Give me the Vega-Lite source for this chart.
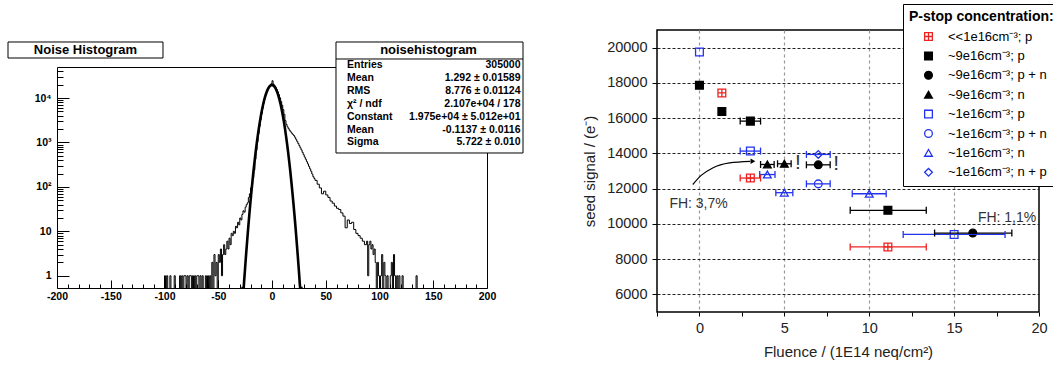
{
  "$schema": "https://vega.github.io/schema/vega-lite/v6.json",
  "padding": {"left": 7, "top": 2, "right": 0, "bottom": 0},
  "spacing": 56,
  "config": {
    "font": "Liberation Sans",
    "text": {"font": "Liberation Sans"},
    "axis": {"labelFont": "Liberation Sans", "titleFont": "Liberation Sans"}
  },
  "resolve": {
    "scale": {"shape": "independent", "fill": "independent", "stroke": "independent"},
    "legend": {"shape": "independent", "fill": "independent", "stroke": "independent"}
  },
  "hconcat": [
    {
      "spacing": 9,
      "vconcat": [
        {
          "width": 430,
          "height": 1,
          "view": {"stroke": null},
          "data": {"values": [{}]},
          "mark": {"type": "rect", "fill": "white"}
        },
        {
          "width": 430,
          "height": 221,
          "view": {"stroke": "black", "strokeWidth": 1},
          "resolve": {"axis": {"x": "independent"}},
          "layer": [
            {
              "data": {"values": [
                {"x":-200,"n":0.1},{"x":-100,"n":1},{"x":-99,"n":0.1},{"x":-98,"n":1},{"x":-97,"n":0.1},{"x":-95,"n":1},{"x":-94,"n":0.1},{"x":-91,"n":1},{"x":-90,"n":0.1},
                {"x":-86,"n":1},{"x":-85,"n":0.1},{"x":-84,"n":1},{"x":-83,"n":0.1},{"x":-82,"n":1},{"x":-80,"n":0.1},{"x":-79,"n":1},{"x":-78,"n":0.1},{"x":-77,"n":1},{"x":-75,"n":0.1},{"x":-74,"n":1},{"x":-73,"n":0.1},{"x":-72,"n":1},{"x":-71,"n":0.1},{"x":-70,"n":1},{"x":-68,"n":0.1},{"x":-67,"n":1},{"x":-66,"n":0.1},{"x":-65,"n":1},{"x":-64,"n":0.1},{"x":-62,"n":1},{"x":-61,"n":0.1},{"x":-60,"n":1},{"x":-59,"n":0.1},{"x":-58,"n":1},{"x":-57,"n":0.1},
                {"x":-56,"n":2},{"x":-55,"n":0.1},{"x":-54,"n":3},{"x":-53,"n":1},{"x":-52,"n":2},{"x":-51,"n":0.1},{"x":-50,"n":3},{"x":-49,"n":2},{"x":-48,"n":4},{"x":-47,"n":1},{"x":-46,"n":3},{"x":-45,"n":5},{"x":-44,"n":3},{"x":-43,"n":4},{"x":-42,"n":6},{"x":-41,"n":4},{"x":-40,"n":7},{"x":-39,"n":5},{"x":-38,"n":9},{"x":-37,"n":8},{"x":-36,"n":10},{"x":-35,"n":9},{"x":-34,"n":13},{"x":-33,"n":12},{"x":-32,"n":16},{"x":-31,"n":14},{"x":-30,"n":20},{"x":-29,"n":18},{"x":-28,"n":24},{"x":-27,"n":29},{"x":-26,"n":27},{"x":-25,"n":35},{"x":-24,"n":40},{"x":-23,"n":44},{"x":-22,"n":58},{"x":-21,"n":70},{"x":-20,"n":95},{"x":-19,"n":115},{"x":-18,"n":160},{"x":-17,"n":240},{"x":-16,"n":420},{"x":-15,"n":680},{"x":-14,"n":1050},{"x":-13,"n":1580},{"x":-12,"n":2300},{"x":-11,"n":3250},{"x":-10,"n":4450},{"x":-9,"n":5950},{"x":-8,"n":7700},{"x":-7,"n":9650},{"x":-6,"n":11700},{"x":-5,"n":13800},{"x":-4,"n":15800},{"x":-3,"n":17500},{"x":-2,"n":18900},{"x":-1,"n":21000},{"x":0,"n":24500},{"x":1,"n":20500},{"x":2,"n":18800},{"x":3,"n":17300},{"x":4,"n":15600},{"x":5,"n":13800},{"x":6,"n":11900},{"x":7,"n":10100},{"x":8,"n":8400},{"x":9,"n":6900},{"x":10,"n":5500},{"x":11,"n":4300},{"x":12,"n":3100},{"x":13,"n":2550},{"x":14,"n":2250},{"x":15,"n":2050},{"x":16,"n":1880},{"x":17,"n":1740},{"x":18,"n":1620},{"x":19,"n":1520},{"x":20,"n":1430},{"x":21,"n":1310},{"x":22,"n":1180},{"x":23,"n":1060},{"x":24,"n":950},{"x":25,"n":850},{"x":26,"n":760},{"x":27,"n":680},{"x":28,"n":600},{"x":29,"n":530},{"x":30,"n":470},{"x":31,"n":420},{"x":32,"n":370},{"x":33,"n":330},{"x":34,"n":290},{"x":35,"n":255},{"x":36,"n":225},{"x":37,"n":195},{"x":38,"n":170},{"x":39,"n":155},{"x":40,"n":140},{"x":42,"n":115},{"x":44,"n":95},{"x":46,"n":70},{"x":48,"n":80},{"x":50,"n":66},{"x":52,"n":58},{"x":54,"n":48},{"x":56,"n":43},{"x":58,"n":37},{"x":60,"n":33},{"x":62,"n":31},{"x":64,"n":26},{"x":66,"n":22},{"x":68,"n":12},{"x":70,"n":18},{"x":72,"n":15},{"x":74,"n":16},{"x":76,"n":11},{"x":78,"n":9},{"x":80,"n":8},{"x":82,"n":7},{"x":84,"n":6},{"x":86,"n":5},{"x":88,"n":6},{"x":89,"n":1},{"x":90,"n":5},{"x":91,"n":6},{"x":92,"n":4},{"x":93,"n":5},{"x":94,"n":3},{"x":95,"n":4},{"x":96,"n":2},{"x":97,"n":0.1},{"x":98,"n":2},{"x":99,"n":1},{"x":100,"n":0.1},{"x":101,"n":1},{"x":102,"n":3},{"x":103,"n":0.1},{"x":104,"n":2},{"x":105,"n":1},{"x":106,"n":0.1},{"x":107,"n":1},{"x":108,"n":0.1},{"x":110,"n":1},{"x":111,"n":2},{"x":112,"n":0.1},{"x":113,"n":3},{"x":114,"n":1},{"x":115,"n":0.1},{"x":116,"n":1},{"x":117,"n":0.1},{"x":118,"n":1},{"x":119,"n":0.1},{"x":121,"n":1},{"x":122,"n":0.1},{"x":134,"n":1},{"x":135,"n":0.1},{"x":200,"n":0.1}
              ]},
              "mark": {"type": "line", "interpolate": "step-after", "clip": true, "color": "black", "strokeWidth": 1},
              "encoding": {
                "x": {
                  "field": "x", "type": "quantitative",
                  "scale": {"domain": [-200, 200], "nice": false, "zero": false},
                  "axis": {
                    "title": null, "domain": false, "grid": false, "orient": "bottom",
                    "values": [-200, -150, -100, -50, 0, 50, 100, 150, 200],
                    "labelExpr": "'' + datum.value",
                    "tickSize": -8, "tickColor": "black", "tickWidth": 1,
                    "labelPadding": 11, "labelFlush": false, "labelOverlap": false, "labelBound": false,
                    "labelFontWeight": "bold", "labelFontSize": 10.5, "labelColor": "black"
                  }
                },
                "y": {
                  "field": "n", "type": "quantitative",
                  "scale": {"type": "log", "domain": [0.53, 50000], "nice": false},
                  "axis": {
                    "title": null, "domain": false, "grid": false,
                    "values": [1,2,3,4,5,6,7,8,9,10,20,30,40,50,60,70,80,90,100,200,300,400,500,600,700,800,900,1000,2000,3000,4000,5000,6000,7000,8000,9000,10000,20000,30000,40000],
                    "labelExpr": "datum.value === 1 ? '1' : datum.value === 10 ? '10' : datum.value === 100 ? '10²' : datum.value === 1000 ? '10³' : datum.value === 10000 ? '10⁴' : ''",
                    "tickSize": {"condition": {"test": "indexof([1,10,100,1000,10000], datum.value) >= 0", "value": -12}, "value": -6},
                    "tickColor": "black", "tickWidth": 1,
                    "labelPadding": 18, "labelOverlap": false, "labelBound": false, "labelFlush": false,
                    "labelFontWeight": "bold", "labelFontSize": 10.5, "labelColor": "black"
                  }
                }
              }
            },
            {
              "data": {"values": [
                {"x":-28.5,"f":0.53},{"x":-26.3,"f":0.53},{"x":-26,"f":0.71},{"x":-25,"f":1.53},{"x":-24,"f":3.23},{"x":-23,"f":6.61},{"x":-22,"f":13.1},{"x":-21,"f":25.2},{"x":-20,"f":47},{"x":-19,"f":85},{"x":-18,"f":149},{"x":-17,"f":253},{"x":-16,"f":418},{"x":-15,"f":668},{"x":-14,"f":1039},{"x":-13,"f":1561},{"x":-12,"f":2279},{"x":-11,"f":3229},{"x":-10,"f":4434},{"x":-9,"f":5906},{"x":-8,"f":7628},{"x":-7,"f":9562},{"x":-6,"f":11625},{"x":-5,"f":13710},{"x":-4,"f":15675},{"x":-3,"f":17385},{"x":-2,"f":18700},{"x":-1,"f":19510},{"x":0,"f":19746},{"x":1,"f":19380},{"x":2,"f":18450},{"x":3,"f":17030},{"x":4,"f":15250},{"x":5,"f":13240},{"x":6,"f":11170},{"x":7,"f":9122},{"x":8,"f":7232},{"x":9,"f":5560},{"x":10,"f":4146},{"x":11,"f":2998},{"x":12,"f":2103},{"x":13,"f":1430},{"x":14,"f":944},{"x":15,"f":604},{"x":16,"f":375},{"x":17,"f":226},{"x":18,"f":132},{"x":19,"f":74.7},{"x":20,"f":41.1},{"x":21,"f":21.9},{"x":22,"f":11.3},{"x":23,"f":5.67},{"x":24,"f":2.76},{"x":25,"f":1.3},{"x":26,"f":0.594},{"x":26.2,"f":0.53},{"x":28.5,"f":0.53}
              ]},
              "mark": {"type": "line", "clip": true, "color": "black", "strokeWidth": 2.6},
              "encoding": {
                "x": {
                  "field": "x", "type": "quantitative",
                  "axis": {
                    "title": null, "domain": false, "grid": false, "orient": "bottom", "labels": false,
                    "values": [-190,-180,-170,-160,-140,-130,-120,-110,-90,-80,-70,-60,-40,-30,-20,-10,10,20,30,40,60,70,80,90,110,120,130,140,160,170,180,190],
                    "tickSize": -4, "tickColor": "black", "tickWidth": 1
                  }
                },
                "y": {"field": "f", "type": "quantitative"}
              }
            },
            {
              "data": {"values": [{}]},
              "mark": {"type": "rect", "fill": "white", "stroke": "black", "strokeWidth": 1},
              "encoding": {
                "x": {"datum": -245.58, "type": "quantitative", "axis": null},
                "x2": {"datum": -101.4},
                "y": {"datum": 182700, "type": "quantitative"},
                "y2": {"datum": 79700}
              }
            },
            {
              "data": {"values": [{}]},
              "mark": {"type": "text", "text": "Noise Histogram", "font": "Liberation Sans", "fontWeight": "bold", "fontSize": 13, "align": "center", "baseline": "middle", "color": "black"},
              "encoding": {
                "x": {"datum": -173.5, "type": "quantitative", "axis": null},
                "y": {"datum": 120700, "type": "quantitative"}
              }
            },
            {
              "data": {"values": [{}]},
              "mark": {"type": "rect", "fill": "white", "stroke": "black", "strokeWidth": 1},
              "encoding": {
                "x": {"datum": 59.53, "type": "quantitative", "axis": null},
                "x2": {"datum": 233.49},
                "y": {"datum": 182700, "type": "quantitative"},
                "y2": {"datum": 580}
              }
            },
            {
              "data": {"values": [{}]},
              "mark": {"type": "rule", "color": "black", "strokeWidth": 1},
              "encoding": {
                "x": {"datum": 59.53, "type": "quantitative", "axis": null},
                "x2": {"datum": 233.49},
                "y": {"datum": 75700, "type": "quantitative"}
              }
            },
            {
              "data": {"values": [{}]},
              "mark": {"type": "text", "text": "noisehistogram", "font": "Liberation Sans", "fontWeight": "bold", "fontSize": 13, "align": "center", "baseline": "middle", "color": "black"},
              "encoding": {
                "x": {"datum": 145.6, "type": "quantitative", "axis": null},
                "y": {"datum": 120700, "type": "quantitative"}
              }
            },
            {
              "data": {"values": [{}]},
              "mark": {"type": "text", "text": ["Entries", "Mean", "RMS", "χ² / ndf", "Constant", "Mean", "Sigma"], "font": "Liberation Sans", "fontWeight": "bold", "fontSize": 10.5, "lineHeight": 12.9, "align": "left", "baseline": "middle", "color": "black"},
              "encoding": {
                "x": {"datum": 69.8, "type": "quantitative", "axis": null},
                "y": {"datum": 55460, "type": "quantitative"}
              }
            },
            {
              "data": {"values": [{}]},
              "mark": {"type": "text", "text": ["305000", "1.292 ± 0.01589", "8.776 ± 0.01124", "2.107e+04 / 178", "1.975e+04 ± 5.012e+01", "-0.1137 ± 0.0116", "5.722 ± 0.010"], "font": "Liberation Sans", "fontWeight": "bold", "fontSize": 10.5, "lineHeight": 12.9, "align": "right", "baseline": "middle", "color": "black"},
              "encoding": {
                "x": {"datum": 231.2, "type": "quantitative", "axis": null},
                "y": {"datum": 55460, "type": "quantitative"}
              }
            }
          ]
        }
      ]
    },
    {
      "width": 382,
      "height": 282,
      "view": {"stroke": "black", "strokeWidth": 1.5},
      "layer": [
        {
          "data": {"name": "pts"},
          "mark": {"type": "point", "opacity": 1, "size": 60, "strokeWidth": 1.3},
          "encoding": {
            "x": {
              "field": "x", "type": "quantitative",
              "scale": {"domain": [-2.5, 20], "nice": false, "zero": false},
              "axis": {
                "title": "Fluence / (1E14 neq/cm²)", "titleFontSize": 15, "titleFontWeight": "normal", "titleColor": "#222", "titlePadding": 10,
                "domain": false,
                "values": [-2.5, 0, 2.5, 5, 7.5, 10, 12.5, 15, 17.5, 20],
                "labelExpr": "datum.value % 5 === 0 ? '' + datum.value : ''",
                "grid": true, "gridColor": "#999", "gridDash": [3, 3], "gridWidth": 1.2,
                "gridOpacity": {"condition": {"test": "datum.value % 5 === 0 && datum.value > -1 && datum.value < 19", "value": 1}, "value": 0},
                "tickSize": 4, "tickColor": "black", "labelPadding": 5,
                "labelFontSize": 14.5, "labelColor": "#222", "labelFlush": false, "labelOverlap": false, "labelBound": false
              }
            },
            "y": {
              "field": "y", "type": "quantitative",
              "scale": {"domain": [5000, 21000], "nice": false, "zero": false},
              "axis": {
                "title": "seed signal / (e⁻)", "titleFontSize": 15, "titleFontWeight": "normal", "titleColor": "#222", "titlePadding": 9,
                "domain": false,
                "values": [6000, 7000, 8000, 9000, 10000, 11000, 12000, 13000, 14000, 15000, 16000, 17000, 18000, 19000, 20000],
                "labelExpr": "datum.value % 2000 === 0 ? '' + datum.value : ''",
                "grid": true, "gridWidth": 1,
                "gridColor": {"condition": {"test": "datum.value % 2000 === 0", "value": "#222"}, "value": "#777"},
                "gridDash": {"condition": {"test": "datum.value % 2000 === 0", "value": [3, 2]}, "value": [1, 2]},
                "tickSize": 5, "tickColor": "black", "labelPadding": 5,
                "labelFontSize": 14.5, "labelColor": "#222", "labelOverlap": false, "labelBound": false, "labelFlush": false
              }
            },
            "shape": {
              "field": "s", "type": "nominal",
              "scale": {
                "domain": ["<<1e16cm⁻³; p", "~9e16cm⁻³; p", "~9e16cm⁻³; p + n", "~9e16cm⁻³; n", "~1e16cm⁻³; p", "~1e16cm⁻³; p + n", "~1e16cm⁻³; n", "~1e16cm⁻³; n + p"],
                "range": ["M-1,-1L1,-1L1,1L-1,1Z M0,-1L0,1 M-1,0L1,0", "square", "circle", "triangle-up", "square", "circle", "triangle-up", "diamond"]
              },
              "legend": {
                "title": "P-stop concentration:", "orient": "none", "legendX": 246, "legendY": -26,
                "fillColor": "white", "strokeColor": "black", "padding": 6,
                "titleFont": "Liberation Sans", "titleFontWeight": "bold", "titleFontSize": 14, "titleColor": "black", "titlePadding": 6,
                "labelFont": "Liberation Sans", "labelFontSize": 13, "labelColor": "black", "labelLimit": 400, "labelOffset": 13,
                "symbolSize": 60, "symbolStrokeWidth": 1.3, "symbolOffset": 13, "rowPadding": 5.4
              }
            },
            "fill": {
              "field": "s", "type": "nominal",
              "scale": {
                "domain": ["<<1e16cm⁻³; p", "~9e16cm⁻³; p", "~9e16cm⁻³; p + n", "~9e16cm⁻³; n", "~1e16cm⁻³; p", "~1e16cm⁻³; p + n", "~1e16cm⁻³; n", "~1e16cm⁻³; n + p"],
                "range": ["transparent", "black", "black", "black", "transparent", "transparent", "transparent", "transparent"]
              },
              "legend": {"title": "P-stop concentration:", "orient": "none", "legendX": 246, "legendY": -26}
            },
            "stroke": {
              "field": "s", "type": "nominal",
              "scale": {
                "domain": ["<<1e16cm⁻³; p", "~9e16cm⁻³; p", "~9e16cm⁻³; p + n", "~9e16cm⁻³; n", "~1e16cm⁻³; p", "~1e16cm⁻³; p + n", "~1e16cm⁻³; n", "~1e16cm⁻³; n + p"],
                "range": ["#ee2222", "black", "black", "black", "#2233ee", "#2233ee", "#2233ee", "#2233ee"]
              },
              "legend": {"title": "P-stop concentration:", "orient": "none", "legendX": 246, "legendY": -26}
            }
          }
        },
        {
          "data": {"name": "pts"},
          "mark": {"type": "rule", "strokeWidth": 1.3},
          "encoding": {
            "x": {"field": "lo", "type": "quantitative"},
            "x2": {"field": "hi"},
            "y": {"field": "y", "type": "quantitative"},
            "stroke": {"field": "s", "type": "nominal"}
          }
        },
        {
          "data": {"name": "pts"},
          "mark": {"type": "rule", "strokeWidth": 1.3, "yOffset": -3.5, "y2Offset": 3.5},
          "encoding": {
            "x": {"field": "lo", "type": "quantitative"},
            "y": {"field": "y", "type": "quantitative"},
            "y2": {"field": "y"},
            "stroke": {"field": "s", "type": "nominal"}
          }
        },
        {
          "data": {"name": "pts"},
          "mark": {"type": "rule", "strokeWidth": 1.3, "yOffset": -3.5, "y2Offset": 3.5},
          "encoding": {
            "x": {"field": "hi", "type": "quantitative"},
            "y": {"field": "y", "type": "quantitative"},
            "y2": {"field": "y"},
            "stroke": {"field": "s", "type": "nominal"}
          }
        },
        {
          "data": {"values": [
            {"x": -0.39, "y": 12234}, {"x": 0.1, "y": 12750}, {"x": 0.78, "y": 13175}, {"x": 1.77, "y": 13460}, {"x": 3.0, "y": 13550}
          ]},
          "mark": {"type": "line", "interpolate": "monotone", "color": "black", "strokeWidth": 1.2},
          "encoding": {
            "x": {"field": "x", "type": "quantitative"},
            "y": {"field": "y", "type": "quantitative"}
          }
        },
        {
          "data": {"values": [{"x": 3.15, "y": 13550}]},
          "mark": {"type": "point", "shape": "triangle-right", "filled": true, "color": "black", "opacity": 1, "size": 30},
          "encoding": {
            "x": {"field": "x", "type": "quantitative"},
            "y": {"field": "y", "type": "quantitative"}
          }
        },
        {
          "data": {"values": [{"t": "!", "x": 5.8, "y": 13460}, {"t": "!", "x": 8.05, "y": 13370}]},
          "mark": {"type": "text", "fontSize": 21, "color": "#333", "align": "center", "baseline": "middle", "font": "Liberation Sans"},
          "encoding": {
            "x": {"field": "x", "type": "quantitative"},
            "y": {"field": "y", "type": "quantitative"},
            "text": {"field": "t"}
          }
        },
        {
          "data": {"values": [{"t": "FH: 3,7%", "x": -1.77, "y": 11140}, {"t": "FH: 1,1%", "x": 16.4, "y": 10310}]},
          "mark": {"type": "text", "fontSize": 14, "color": "#333", "align": "left", "baseline": "middle", "font": "Liberation Sans"},
          "encoding": {
            "x": {"field": "x", "type": "quantitative"},
            "y": {"field": "y", "type": "quantitative"},
            "text": {"field": "t"}
          }
        }
      ]
    }
  ],
  "datasets": {
    "pts": [
      {"s": "~1e16cm⁻³; p", "x": 0, "y": 19750},
      {"s": "~9e16cm⁻³; p", "x": 0, "y": 17870},
      {"s": "<<1e16cm⁻³; p", "x": 1.32, "y": 17430},
      {"s": "~9e16cm⁻³; p", "x": 1.32, "y": 16380},
      {"s": "~9e16cm⁻³; p", "x": 3, "y": 15830, "lo": 2.4, "hi": 3.6},
      {"s": "~1e16cm⁻³; p", "x": 3, "y": 14130, "lo": 2.4, "hi": 3.6},
      {"s": "<<1e16cm⁻³; p", "x": 3, "y": 12600, "lo": 2.4, "hi": 3.6},
      {"s": "~9e16cm⁻³; n", "x": 4, "y": 13370, "lo": 3.6, "hi": 4.4},
      {"s": "~9e16cm⁻³; n", "x": 5, "y": 13410, "lo": 4.6, "hi": 5.4},
      {"s": "~1e16cm⁻³; n", "x": 4, "y": 12800, "lo": 3.55, "hi": 4.45},
      {"s": "~1e16cm⁻³; n", "x": 5, "y": 11770, "lo": 4.5, "hi": 5.5},
      {"s": "~1e16cm⁻³; n + p", "x": 7, "y": 13940, "lo": 6.3, "hi": 7.7},
      {"s": "~9e16cm⁻³; p + n", "x": 7, "y": 13350, "lo": 6.3, "hi": 7.7},
      {"s": "~1e16cm⁻³; p + n", "x": 7, "y": 12270, "lo": 6.3, "hi": 7.7},
      {"s": "~1e16cm⁻³; n", "x": 10, "y": 11710, "lo": 9, "hi": 11},
      {"s": "~9e16cm⁻³; p", "x": 11.1, "y": 10770, "lo": 8.88, "hi": 13.36},
      {"s": "<<1e16cm⁻³; p", "x": 11.1, "y": 8690, "lo": 8.88, "hi": 13.36},
      {"s": "~1e16cm⁻³; p", "x": 15, "y": 9400, "lo": 12, "hi": 18},
      {"s": "~9e16cm⁻³; p + n", "x": 16.1, "y": 9480, "lo": 13.85, "hi": 18.4}
    ]
  }
}
